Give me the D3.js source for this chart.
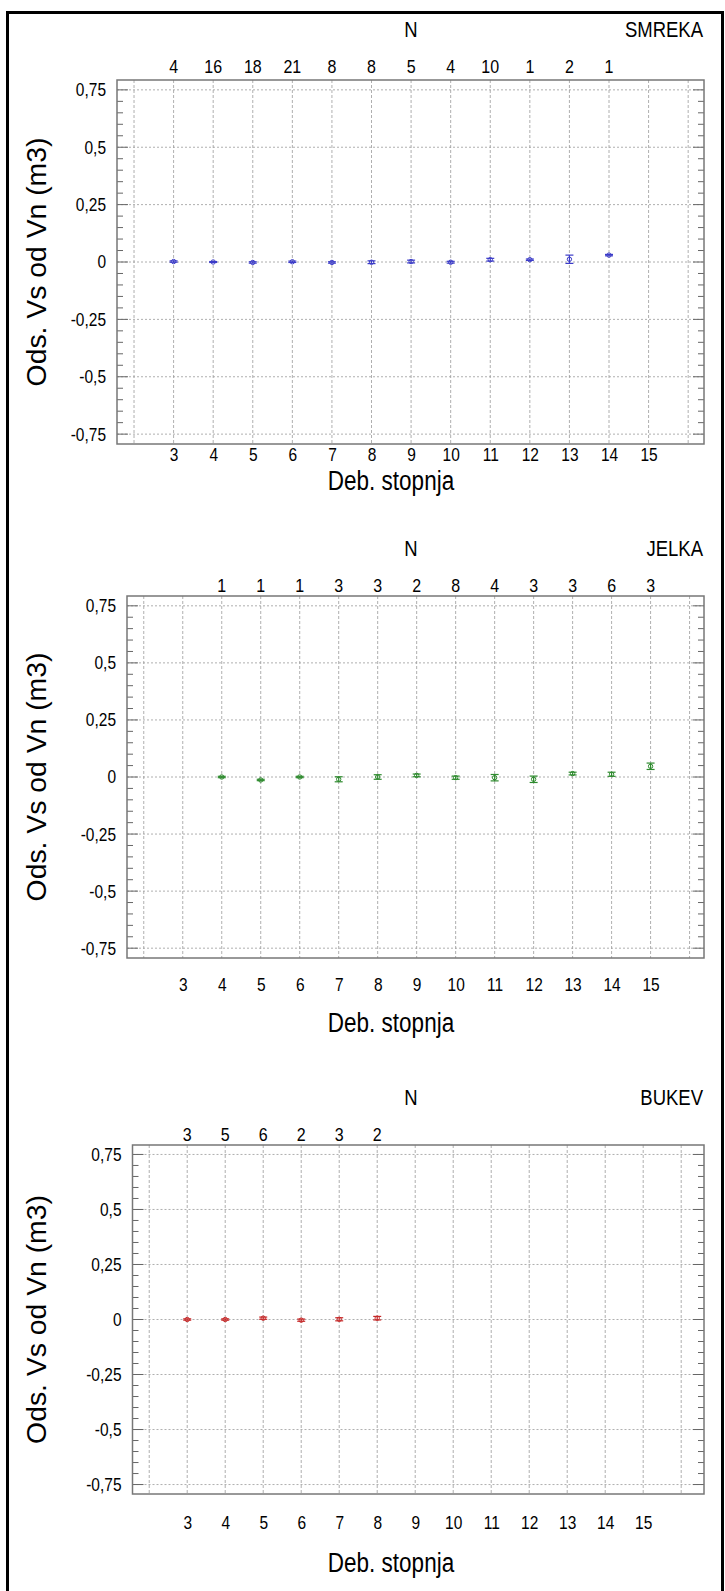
<!DOCTYPE html>
<html><head><meta charset="utf-8">
<script src="https://cdn.jsdelivr.net/npm/d3@7"></script>
<style>body{margin:0;background:#fff} text{font-family:"Liberation Sans",Arial,sans-serif;fill:#000}</style>
</head><body><svg id="c" width="725" height="1591"></svg>
<script>
// ---------- data ----------
const xTicks = [3,4,5,6,7,8,9,10,11,12,13,14,15];
const yTicks = [0.75,0.5,0.25,0,-0.25,-0.5,-0.75];

const smrekaX    = [3,4,5,6,7,8,9,10,11,12,13,14];
const smrekaN    = [4,16,18,21,8,8,5,4,10,1,2,1];
const smrekaMean = [0.002,0.000,-0.002,0.001,-0.002,-0.001,0.002,-0.001,0.010,0.010,0.012,0.030];
const smrekaErr  = [0.003,0.002,0.003,0.003,0.003,0.006,0.006,0.004,0.006,0.003,0.018,0.003];

const jelkaX    = [4,5,6,7,8,9,10,11,12,13,14,15];
const jelkaN    = [1,1,1,3,3,2,8,4,3,3,6,3];
const jelkaMean = [0.000,-0.013,0.000,-0.010,0.000,0.007,-0.003,-0.003,-0.010,0.015,0.012,0.047];
const jelkaErr  = [0.003,0.003,0.003,0.011,0.010,0.006,0.007,0.014,0.014,0.006,0.009,0.014];

const bukevX    = [3,4,5,6,7,8];
const bukevN    = [3,5,6,2,3,2];
const bukevMean = [0.000,0.000,0.006,-0.003,0.001,0.006];
const bukevErr  = [0.003,0.003,0.005,0.005,0.007,0.008];

// ---------- layout ----------
const SY = 1.2;
const panels = [
  {name:"SMREKA", color:"#3b3bc8", x:smrekaX, n:smrekaN, m:smrekaMean, e:smrekaErr,
   left:117, right:704, top:80, bottom:444, xd:[1.57,16.4], labY:455, titY:481, hs:-3},
  {name:"JELKA", color:"#2e8b2e", x:jelkaX, n:jelkaN, m:jelkaMean, e:jelkaErr,
   left:127, right:704, top:596, bottom:958, xd:[1.57,16.37], labY:985, titY:1023, hs:0},
  {name:"BUKEV", color:"#c62828", x:bukevX, n:bukevN, m:bukevMean, e:bukevErr,
   left:132.5, right:704, top:1145, bottom:1494, xd:[1.56,16.6], labY:1523, titY:1563, hs:0}
];

const svg = d3.select("#c");
// outer border
svg.append("path").attr("d","M7.5,1591 V12.5 H722.5 V1591").attr("fill","none").attr("stroke","#000").attr("stroke-width",3);

function txt(g,x,y,s,size,anchor){
  // y is the vertical centre of the text
  return g.append("text").attr("transform",`translate(${x},${y}) scale(1,${SY})`)
    .attr("text-anchor",anchor).attr("dominant-baseline","central").attr("font-size",size).text(s);
}
const fmt = d => String(d).replace(".",",");

panels.forEach(p=>{
  const g = svg.append("g");
  const x = d3.scaleLinear().domain(p.xd).range([p.left,p.right]);
  const y = d3.scaleLinear().domain([-0.793,0.793]).range([p.bottom,p.top]);

  // header
  txt(g,411,p.top-48+p.hs,"N",18.5,"middle");
  txt(g,703,p.top-48+p.hs,p.name,18.5,"end");
  // counts
  p.x.forEach((c,i)=>txt(g,x(c),p.top-11+p.hs,String(p.n[i]),16,"middle"));

  // grid
  const vg = d3.range(2,17);
  g.selectAll(".vg").data(vg).join("line")
    .attr("x1",d=>x(d)).attr("x2",d=>x(d)).attr("y1",p.top).attr("y2",p.bottom)
    .attr("stroke","#9a9a9a").attr("stroke-width",0.8).attr("stroke-dasharray","3,2");
  g.selectAll(".hg").data(yTicks).join("line")
    .attr("x1",p.left).attr("x2",p.right).attr("y1",d=>y(d)).attr("y2",d=>y(d))
    .attr("stroke","#9a9a9a").attr("stroke-width",0.8).attr("stroke-dasharray","2,2");

  // minor/major ticks inward on both sides
  const minor = d3.range(-0.75,0.7501,0.05).map(v=>+v.toFixed(2));
  minor.forEach(v=>{
    const major = yTicks.includes(v);
    const L = major?11:6;
    g.append("line").attr("x1",p.left).attr("x2",p.left+L).attr("y1",y(v)).attr("y2",y(v))
      .attr("stroke","#666").attr("stroke-width",1);
    g.append("line").attr("x1",p.right).attr("x2",p.right-L).attr("y1",y(v)).attr("y2",y(v))
      .attr("stroke","#666").attr("stroke-width",1);
  });

  // frame
  g.append("rect").attr("x",p.left).attr("y",p.top).attr("width",p.right-p.left).attr("height",p.bottom-p.top)
    .attr("fill","none").attr("stroke","#777").attr("stroke-width",1.5);

  // y axis labels
  const ya = g.append("g").attr("transform",`translate(${p.left},0)`)
    .call(d3.axisLeft(y).tickValues(yTicks).tickFormat(fmt).tickSize(0).tickPadding(11));
  ya.select(".domain").remove();
  ya.selectAll("text").attr("font-size",15.5).attr("font-family",null).attr("transform",`scale(1,${SY})`);

  // x axis labels
  const xa = g.append("g").attr("transform",`translate(0,${p.labY})`)
    .call(d3.axisBottom(x).tickValues(xTicks).tickFormat(d3.format("d")).tickSize(0).tickPadding(0));
  xa.select(".domain").remove();
  xa.selectAll("text").attr("font-size",15.5).attr("font-family",null)
    .attr("dy",null).attr("dominant-baseline","central").attr("transform",`scale(1,${SY})`);

  // axis titles
  txt(g,391,p.titY,"Deb. stopnja",22.5,"middle");
  g.append("text").attr("transform",`translate(46,${(p.top+p.bottom)/2}) rotate(-90) scale(1.05,1)`)
    .attr("text-anchor","middle").attr("font-size",27).text("Ods. Vs od Vn (m3)");

  // error bars
  const pts = g.selectAll(".pt").data(p.x.map((c,i)=>({c,m:p.m[i],e:p.e[i]}))).join("g");
  pts.append("line").attr("x1",d=>x(d.c)).attr("x2",d=>x(d.c))
    .attr("y1",d=>y(d.m-d.e)).attr("y2",d=>y(d.m+d.e)).attr("stroke",p.color).attr("stroke-width",1.2);
  [1,-1].forEach(s=>pts.append("line").attr("x1",d=>x(d.c)-4).attr("x2",d=>x(d.c)+4)
    .attr("y1",d=>y(d.m+s*d.e)).attr("y2",d=>y(d.m+s*d.e)).attr("stroke",p.color).attr("stroke-width",1.2));
  pts.append("circle").attr("cx",d=>x(d.c)).attr("cy",d=>y(d.m)).attr("r",2.2)
    .attr("fill","none").attr("stroke",p.color).attr("stroke-width",1);
});
</script></body></html>
